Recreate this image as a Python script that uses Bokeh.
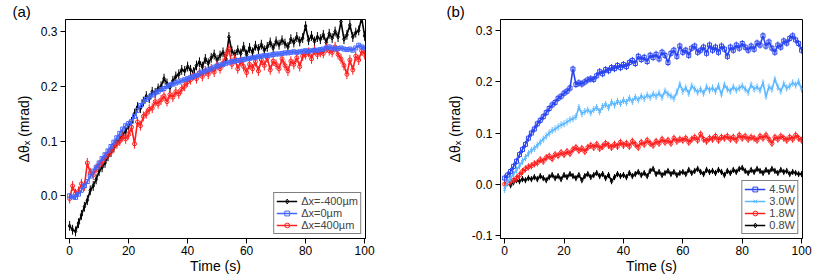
from bokeh.plotting import figure
from bokeh.layouts import row
from bokeh.models import Range1d, FixedTicker, PrintfTickFormatter, Legend, LegendItem, Title, ColumnDataSource
from bokeh.embed import file_html
from bokeh.resources import INLINE

# ---------------- data ----------------
t_a = list(range(0, 101))
a_m400 = [-0.055, -0.062, -0.065, -0.050, -0.035, -0.020, -0.008, 0.010, 0.018, 0.030,
          0.045, 0.052, 0.060, 0.072, 0.080, 0.088, 0.098, 0.104, 0.112, 0.118,
          0.128, 0.135, 0.150, 0.162, 0.160, 0.172, 0.182, 0.178, 0.190, 0.188,
          0.196, 0.200, 0.214, 0.205, 0.198, 0.210, 0.218, 0.222, 0.230, 0.228,
          0.236, 0.230, 0.226, 0.238, 0.244, 0.236, 0.250, 0.242, 0.252, 0.258,
          0.248, 0.256, 0.262, 0.250, 0.290, 0.264, 0.258, 0.266, 0.260, 0.272,
          0.258, 0.270, 0.262, 0.274, 0.268, 0.276, 0.266, 0.272, 0.280, 0.270,
          0.282, 0.276, 0.284, 0.278, 0.272, 0.286, 0.280, 0.290, 0.282, 0.288,
          0.310, 0.284, 0.292, 0.282, 0.290, 0.286, 0.294, 0.280, 0.296, 0.288,
          0.300, 0.290, 0.318, 0.286, 0.294, 0.312, 0.290, 0.298, 0.302, 0.325,
          0.292]
a_0 = [0.000, -0.002, -0.003, 0.003, 0.010, 0.018, 0.026, 0.036, 0.045, 0.052,
       0.060, 0.068, 0.075, 0.082, 0.090, 0.098, 0.106, 0.114, 0.122, 0.128,
       0.132, 0.136, 0.145, 0.156, 0.165, 0.172, 0.176, 0.180, 0.184, 0.188,
       0.190, 0.194, 0.196, 0.200, 0.202, 0.204, 0.206, 0.208, 0.210, 0.212,
       0.214, 0.216, 0.218, 0.220, 0.223, 0.226, 0.228, 0.230, 0.232, 0.235,
       0.237, 0.239, 0.240, 0.242, 0.244, 0.245, 0.246, 0.247, 0.248, 0.249,
       0.250, 0.251, 0.252, 0.253, 0.254, 0.255, 0.256, 0.256, 0.257, 0.258,
       0.259, 0.259, 0.260, 0.261, 0.261, 0.262, 0.263, 0.262, 0.263, 0.264,
       0.265, 0.264, 0.265, 0.266, 0.266, 0.267, 0.268, 0.270, 0.272, 0.270,
       0.268, 0.269, 0.270, 0.268, 0.267, 0.268, 0.266, 0.270, 0.275, 0.272,
       0.270]
a_p400 = [-0.005, 0.018, 0.004, 0.008, 0.022, 0.018, 0.060, 0.042, 0.038, 0.050,
          0.056, 0.062, 0.070, 0.076, 0.080, 0.090, 0.095, 0.100, 0.108, 0.104,
          0.112, 0.125, 0.095, 0.135, 0.128, 0.145, 0.150, 0.158, 0.160, 0.172,
          0.168, 0.175, 0.182, 0.172, 0.185, 0.180, 0.190, 0.186, 0.195, 0.200,
          0.208, 0.212, 0.220, 0.214, 0.225, 0.218, 0.228, 0.222, 0.232, 0.226,
          0.238, 0.232, 0.242, 0.258, 0.268, 0.240, 0.250, 0.232, 0.245, 0.236,
          0.225, 0.240, 0.232, 0.245, 0.228, 0.248, 0.238, 0.252, 0.230, 0.246,
          0.240, 0.232, 0.250, 0.238, 0.228, 0.246, 0.240, 0.252, 0.236, 0.255,
          0.258, 0.262, 0.250, 0.266, 0.258, 0.262, 0.260, 0.270, 0.265, 0.262,
          0.272, 0.258, 0.250, 0.238, 0.222, 0.248, 0.230, 0.255, 0.248, 0.265,
          0.258]

t_b = list(range(0, 101))
t_b08 = list(range(2, 101))
b_45 = [0.012, 0.018, 0.025, 0.035, 0.045, 0.058, 0.068, 0.078, 0.090, 0.100,
        0.108, 0.118, 0.125, 0.132, 0.140, 0.148, 0.155, 0.160, 0.168, 0.172,
        0.178, 0.182, 0.188, 0.225, 0.195, 0.198, 0.196, 0.200, 0.204, 0.206,
        0.205, 0.212, 0.220, 0.216, 0.224, 0.222, 0.228, 0.226, 0.232, 0.228,
        0.234, 0.230, 0.238, 0.242, 0.236, 0.250, 0.244, 0.248, 0.240, 0.252,
        0.248, 0.254, 0.245, 0.258, 0.252, 0.238, 0.256, 0.262, 0.250, 0.270,
        0.258, 0.262, 0.252, 0.266, 0.270, 0.258, 0.262, 0.268, 0.256, 0.272,
        0.262, 0.268, 0.258, 0.270, 0.264, 0.250, 0.268, 0.262, 0.272, 0.266,
        0.275, 0.268, 0.262, 0.270, 0.264, 0.276, 0.272, 0.290, 0.270, 0.278,
        0.266, 0.258, 0.272, 0.268, 0.280, 0.276, 0.285, 0.290, 0.282, 0.275,
        0.262]
b_30 = [-0.010, 0.005, 0.012, 0.020, 0.028, 0.036, 0.045, 0.052, 0.060, 0.066,
        0.070, 0.076, 0.082, 0.088, 0.094, 0.100, 0.105, 0.108, 0.112, 0.116,
        0.118, 0.122, 0.126, 0.128, 0.132, 0.150, 0.138, 0.142, 0.145, 0.140,
        0.146, 0.150, 0.142, 0.152, 0.156, 0.150, 0.160, 0.155, 0.162, 0.158,
        0.164, 0.160, 0.168, 0.162, 0.170, 0.165, 0.172, 0.168, 0.174, 0.170,
        0.176, 0.172, 0.178, 0.170, 0.182, 0.176, 0.172, 0.168, 0.180, 0.195,
        0.182, 0.188, 0.178, 0.192, 0.186, 0.180, 0.185, 0.178, 0.190, 0.184,
        0.188, 0.182, 0.192, 0.176, 0.194, 0.186, 0.182, 0.190, 0.184, 0.188,
        0.192, 0.186, 0.180, 0.194, 0.186, 0.190, 0.184, 0.198, 0.172, 0.190,
        0.186, 0.205, 0.190, 0.182, 0.196, 0.188, 0.192, 0.198, 0.194, 0.200,
        0.186]
b_18 = [0.000, 0.003, 0.006, 0.008, 0.012, 0.018, 0.025, 0.030, 0.034, 0.036,
        0.040, 0.042, 0.048, 0.045, 0.052, 0.055, 0.050, 0.058, 0.056, 0.062,
        0.058, 0.064, 0.060, 0.068, 0.072, 0.066, 0.070, 0.064, 0.072, 0.076,
        0.072, 0.078, 0.070, 0.074, 0.080, 0.076, 0.072, 0.078, 0.074, 0.082,
        0.076, 0.080, 0.074, 0.084, 0.078, 0.072, 0.082, 0.078, 0.086, 0.080,
        0.076, 0.084, 0.080, 0.088, 0.082, 0.086, 0.080, 0.090, 0.084, 0.088,
        0.086, 0.090, 0.082, 0.088, 0.092, 0.086, 0.098, 0.088, 0.084, 0.090,
        0.088, 0.094, 0.086, 0.092, 0.090, 0.094, 0.088, 0.092, 0.086, 0.096,
        0.090, 0.094, 0.088, 0.092, 0.090, 0.086, 0.094, 0.090, 0.096, 0.088,
        0.080, 0.092, 0.088, 0.094, 0.090, 0.086, 0.092, 0.088, 0.096, 0.090,
        0.086]
b_08 = [-0.002, 0.004, 0.008, 0.006, 0.010, 0.008, 0.012, 0.010,
        0.014, 0.010, 0.016, 0.012, 0.008, 0.014, 0.018, 0.012, 0.016, 0.010,
        0.018, 0.014, 0.020, 0.016, 0.012, 0.018, 0.008, 0.016, 0.020, 0.014,
        0.018, 0.022, 0.016, 0.020, 0.012, 0.018, 0.006, 0.014, 0.020, 0.016,
        0.018, 0.014, 0.022, 0.016, 0.020, 0.024, 0.018, 0.022, 0.016, 0.026,
        0.030, 0.020, 0.024, 0.018, 0.022, 0.026, 0.020, 0.024, 0.018, 0.022,
        0.024, 0.020, 0.028, 0.022, 0.026, 0.030, 0.024, 0.020, 0.028, 0.024,
        0.026, 0.022, 0.028, 0.024, 0.018, 0.026, 0.022, 0.028, 0.024, 0.030,
        0.032, 0.026, 0.022, 0.028, 0.024, 0.030, 0.026, 0.022, 0.028, 0.024,
        0.030, 0.026, 0.022, 0.028, 0.024, 0.026, 0.020, 0.024, 0.022, 0.020,
        0.020]

labels_a = ["\u0394x=-400\u00b5m", "\u0394x=0\u00b5m", "\u0394x=400\u00b5m"]
labels_b = ["4.5W", "3.0W", "1.8W", "0.8W"]
err_a = [0.009, 0.003, 0.009]
err_b = [0.007, 0.007, 0.007, 0.006]
x_ticks = [0, 20, 40, 60, 80, 100]
y_ticks_a = [0.0, 0.1, 0.2, 0.3]
y_ticks_b = [-0.1, 0.0, 0.1, 0.2, 0.3]

FONT = "Liberation Sans"


def make_fig(yr, yticks, bl, br, tag, tag_off):
    p = figure(width=415, height=276, x_range=Range1d(-1.4, 100.3), y_range=Range1d(*yr),
               output_backend="svg", toolbar_location=None,
               min_border_left=bl, min_border_right=br, min_border_top=0, min_border_bottom=38)
    p.title = Title(text=tag, align="left", offset=tag_off, standoff=0,
                    text_font=FONT, text_font_size="15px", text_font_style="normal",
                    text_color="black")
    p.grid.visible = False
    p.outline_line_color = "black"
    p.outline_line_width = 1
    p.xaxis.ticker = FixedTicker(ticks=x_ticks)
    p.yaxis.ticker = FixedTicker(ticks=yticks)
    p.yaxis.formatter = PrintfTickFormatter(format="%.1f")
    for ax in (p.xaxis, p.yaxis):
        ax.major_tick_out = 5
        ax.major_tick_in = 0
        ax.minor_tick_out = 0
        ax.minor_tick_in = 0
        ax.axis_line_color = "black"
        ax.major_tick_line_color = "black"
        ax.major_label_text_font = FONT
        ax.major_label_text_font_size = "12px"
        ax.major_label_text_color = "black"
        ax.axis_label_text_font = FONT
        ax.axis_label_text_font_size = "14px"
        ax.axis_label_text_font_style = "normal"
        ax.axis_label_text_color = "black"
    p.xaxis.axis_label = "Time (s)"
    p.xaxis.axis_label_standoff = 0
    p.xaxis.major_label_standoff = 2
    p.yaxis.axis_label = "\u0394\u03b8\u2093 (mrad)"
    p.yaxis.axis_label_standoff = 6
    p.yaxis.major_label_standoff = 3
    return p


def add_series(p, t, y, err, color, marker):
    src = ColumnDataSource(dict(t=t, y=y, lo=[v - err for v in y], hi=[v + err for v in y]))
    p.segment(x0="t", y0="lo", x1="t", y1="hi", source=src, line_color=color, line_width=1)
    ln = p.line("t", "y", source=src, line_color=color, line_width=1.6)
    mk = p.scatter("t", "y", source=src, marker=marker, size=4, line_color=color,
                   fill_color=None, line_width=1)
    return [ln, mk]


def style_legend(p, items):
    lg = Legend(items=items, location="bottom_right", border_line_color="black",
                border_line_width=1, label_text_font=FONT, label_text_font_size="11px",
                glyph_height=12, glyph_width=21, label_height=12, spacing=0, padding=2,
                margin=4, label_standoff=4, background_fill_alpha=1)
    p.add_layout(lg)


# ---------------- panel (a) ----------------
pa = make_fig((-0.078, 0.322), y_ticks_a, 65, 50, "(a)", -53)
r_m400 = add_series(pa, t_a, a_m400, err_a[0], "black", "diamond")
r_p400 = add_series(pa, t_a, a_p400, err_a[2], "#ff2020", "circle")
r_0 = add_series(pa, t_a, a_0, err_a[1], "#4466ff", "square")
style_legend(pa, [LegendItem(label=labels_a[0], renderers=r_m400),
                  LegendItem(label=labels_a[1], renderers=r_0),
                  LegendItem(label=labels_a[2], renderers=r_p400)])

# ---------------- panel (b) ----------------
pb = make_fig((-0.106, 0.322), y_ticks_b, 85, 28, "(b)", -54)
r08 = add_series(pb, t_b08, b_08, err_b[3], "black", "diamond")
r18 = add_series(pb, t_b, b_18, err_b[2], "#ff2020", "circle")
r30 = add_series(pb, t_b, b_30, err_b[1], "#5cb8ff", "x")
r45 = add_series(pb, t_b, b_45, err_b[0], "#2a44f0", "square")
style_legend(pb, [LegendItem(label=labels_b[0], renderers=r45),
                  LegendItem(label=labels_b[1], renderers=r30),
                  LegendItem(label=labels_b[2], renderers=r18),
                  LegendItem(label=labels_b[3], renderers=r08)])

layout = row(pa, pb, spacing=0)
open("out.html", "w").write(file_html(layout, INLINE))
